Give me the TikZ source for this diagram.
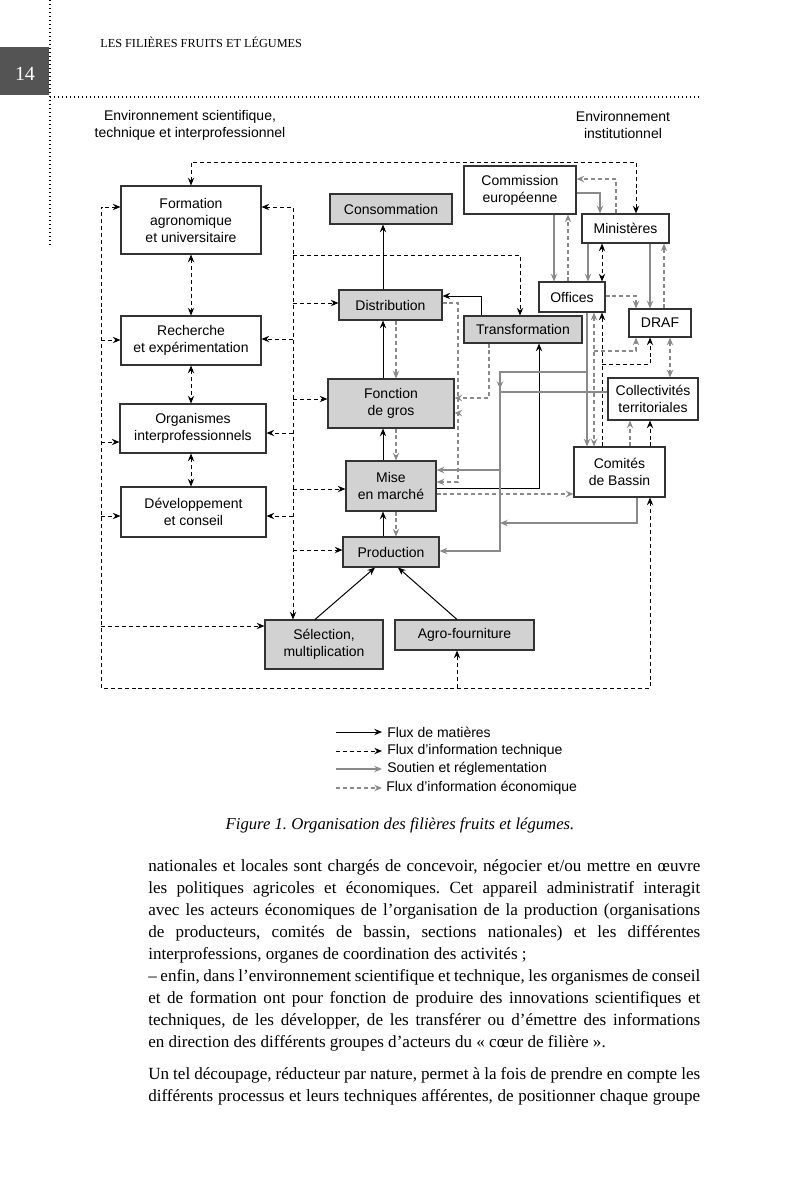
\documentclass[tikz,border=0pt]{standalone}
\usepackage{fontspec}
\setmainfont{Liberation Serif}
\setsansfont{Liberation Sans}
\usetikzlibrary{arrows.meta}
\frenchspacing
\definecolor{gline}{HTML}{8A8A8A}
\definecolor{gfill}{HTML}{D2D2D2}
\definecolor{bord}{HTML}{333333}
\definecolor{pagebox}{HTML}{545454}
\tikzset{
  >={Stealth[length=5.8pt,width=4.8pt,inset=2pt]},
  box/.style={draw=bord, line width=0.8pt, fill=white, align=center, inner sep=0pt,
    font=\sffamily\fontsize{10.5}{12.75}\selectfont},
  gbox/.style={box, fill=gfill},
  wh/.style 2 args={minimum width=#1*0.75pt, minimum height=#2*0.75pt},
  lab/.style={align=center, inner sep=0pt, font=\sffamily\fontsize{10.5}{12.75}\selectfont},
  bs/.style={line width=0.75pt, draw=black, ->},
  bd/.style={line width=0.75pt, draw=black, dash pattern=on 3pt off 2.2pt, ->},
  gs/.style={line width=1.4pt, draw=gline, ->},
  gd/.style={line width=1.2pt, draw=gline, dash pattern=on 3pt off 2.2pt, ->},
  dotl/.style={line width=1pt, dash pattern=on 1pt off 2pt},
  body/.style={inner sep=0pt, anchor=base west, font=\fontsize{12.8}{14}\selectfont},
}
\begin{document}
\begin{tikzpicture}[x=0.75pt,y=-0.75pt]
\fill[white] (0,0) rectangle (800,1200);
\useasboundingbox (0,0) rectangle (800,1200);

% page furniture
\fill[pagebox] (0,47) rectangle (49,95);
\node[inner sep=0pt, anchor=base, text=white, font=\fontsize{15}{15}\selectfont] (pg) at (25,80) {14};
\node[inner sep=0pt, anchor=base west, font=\fontsize{9.2}{10}\selectfont] (hdr) at (100,47) {LES FILIÈRES FRUITS ET LÉGUMES};
\draw[dotl] (50,0) -- (50,245);
\draw[dotl] (50,97) -- (700,97);

\node[lab] (envs) at (190,125) {Environnement scientifique,\\technique et interprofessionnel};
\node[lab] (envi) at (623,125) {Environnement\\institutionnel};

% left column
\node[box, wh={140}{68}] (form) at (191,220) {Formation\\agronomique\\et universitaire};
\node[box, wh={140}{49}] (rech) at (191,340.5) {Recherche\\et expérimentation};
\node[box, wh={146}{49}] (org) at (193,428.5) {Organismes\\interprofessionnels};
\node[box, wh={145}{50}] (dev) at (193.5,512) {Développement\\et conseil};

% core
\node[gbox, wh={122}{30}] (cons) at (391,209) {Consommation};
\node[gbox, wh={103}{30}] (dist) at (390.5,305) {Distribution};
\node[gbox, wh={126}{49}] (gros) at (391,403.5) {Fonction\\de gros};
\node[gbox, wh={90}{50}] (mise) at (391,486) {Mise\\en marché};
\node[gbox, wh={96}{30}] (prod) at (391,552) {Production};
\node[gbox, wh={118}{27}] (trans) at (523,329.5) {Transformation};
\node[gbox, wh={118}{49}] (sel) at (324,644.5) {Sélection,\\multiplication};
\node[gbox, wh={139}{30}] (agro) at (464.5,635) {Agro-fourniture};

% institutional
\node[box, wh={112}{48}] (com) at (520,190) {Commission\\européenne};
\node[box, wh={87}{29}] (min) at (625.5,228.5) {Ministères};
\node[box, wh={66}{30}] (off) at (572,297) {Offices};
\node[box, wh={62}{28}] (draf) at (660,323) {DRAF};
\node[box, wh={90}{42}] (coll) at (653,399) {Collectivités\\territoriales};
\node[box, wh={91}{50}] (comb) at (619.5,472) {Comités\\de Bassin};

% ---- black solid: flux de matieres
\draw[bs] (prod.north -| 383,0) -- (mise.south -| 383,0);
\draw[bs] (mise.north -| 383,0) -- (gros.south -| 383,0);
\draw[bs] (gros.north -| 383,0) -- (dist.south -| 383,0);
\draw[bs] (dist.north -| 383,0) -- (cons.south -| 383,0);
\draw[bs] (trans.north -| 481,0) |- (dist.east |- 0,296);
\draw[bs] (mise.east |- 0,488) -| (trans.south -| 539,0);
\draw[bs] (sel.north -| 315,0) -- (prod.south -| 375,0);
\draw[bs] (agro.north -| 457,0) -- (prod.south -| 398,0);

% ---- black dashed: information technique
\draw[bd,<->] (form.north) |- (636,162) -- (min.north -| 636,0);
\draw[bd,<->] (form.south -| 191,0) -- (rech.north -| 191,0);
\draw[bd,<->] (rech.south -| 191,0) -- (org.north -| 191,0);
\draw[bd,<->] (org.south -| 191,0) -- (dev.north -| 191,0);
% left bus
\coordinate (lbtop) at (101,207);
\coordinate (lbbot) at (101,688);
\coordinate (rbbot) at (650,688);
\draw[bd,<->] (comb.south -| 650,0) -- (rbbot) -- (lbbot) -- (lbtop) -- (form.west |- lbtop);
\draw[bd] (101,340) -- (rech.west |- 0,340);
\draw[bd] (101,442) -- (org.west |- 0,442);
\draw[bd] (101,516) -- (dev.west |- 0,516);
\draw[bd] (101,626) -- (sel.west |- 0,626);
\draw[bd] (457,688) -- (agro.south -| 457,0);
% middle bus
\coordinate (mbtop) at (293,207);
\draw[bd,<->] (form.east |- mbtop) -- (mbtop) -- (sel.north -| mbtop);
\draw[bd] (293,339) -- (rech.east |- 0,339);
\draw[bd] (293,433) -- (org.east |- 0,433);
\draw[bd] (293,516) -- (dev.east |- 0,516);
\draw[bd] (293,303) -- (dist.west |- 0,303);
\draw[bd] (293,399) -- (gros.west |- 0,399);
\draw[bd] (293,489) -- (mise.west |- 0,489);
\draw[bd] (293,550) -- (prod.west |- 0,550);
\draw[bd] (293,255) -| (trans.north -| 520,0);
% institutional
\draw[bd,<->] (min.south -| 602,0) -- (off.north -| 602,0);
\draw[bd] (comb.north -| 602,0) -- (off.south -| 602,0);
\draw[bd] (602,364) -| (draf.south -| 650,0);
\draw[bd] (comb.north -| 650,0) -- (coll.south -| 650,0);

% ---- grey solid: soutien et reglementation
\draw[gs] (com.south -| 554,0) -- (off.north -| 554,0);
\draw[gs] (com.east |- 0,193) -| (min.north -| 600,0);
\draw[gs] (min.south -| 588,0) -- (off.north -| 588,0);
\draw[gs] (min.south -| 650,0) -- (draf.north -| 650,0);
\draw[gs] (off.south -| 587,0) -- (comb.north -| 587,0);
\coordinate (gb1) at (500,372);
\draw[gs] (587,372) -- (gb1) -- (500,389);
\draw[gs,-] (coll.west |- 0,392) -- (500,392);
\draw[gs] (gb1) |- (prod.east |- 0,551);
\draw[gs] (500,470) -- (mise.east |- 0,470);
\draw[gs] (comb.south -| 637,0) |- (500,523);

% ---- grey dashed: information economique
\draw[gd] (off.north -| 568,0) -- (com.south -| 568,0);
\draw[gd] (min.north -| 616,0) |- (com.east |- 0,179);
\draw[gd] (draf.north -| 664,0) -- (min.south -| 664,0);
\draw[gd] (off.east |- 0,296) -| (draf.north -| 636,0);
\draw[gd,<->] (draf.south -| 670,0) -- (coll.north -| 670,0);
\draw[gd,<->] (off.south -| 594,0) -- (comb.north -| 594,0);
\draw[gd] (594,351) -| (draf.south -| 636,0);
\draw[gd] (comb.north -| 630,0) -- (coll.south -| 630,0);
\draw[gd] (mise.east |- 0,494) -- (comb.west |- 0,494);
\draw[gd] (dist.east |- 0,303) -| (458,482) -- (mise.east |- 0,482);
\draw[gd] (458,413) -- (gros.east |- 0,413);
\draw[gd] (trans.south -| 489,0) |- (gros.east |- 0,398);
\draw[gd] (dist.south -| 396,0) -- (gros.north -| 396,0);
\draw[gd] (gros.south -| 396,0) -- (mise.north -| 396,0);
\draw[gd] (mise.south -| 396,0) -- (prod.north -| 396,0);

% ---- legend
\coordinate (l1a) at (336,732); \coordinate (l1b) at (382,732);
\coordinate (l2a) at (336,751); \coordinate (l2b) at (382,751);
\coordinate (l3a) at (336,769); \coordinate (l3b) at (382,769);
\coordinate (l4a) at (336,788); \coordinate (l4b) at (382,788);
\draw[bs] (l1a) -- (l1b);
\draw[bd] (l2a) -- (l2b);
\draw[gs] (l3a) -- (l3b);
\draw[gd] (l4a) -- (l4b);
\node[lab, anchor=west] (t1) at (387,732) {Flux de matières};
\node[lab, anchor=west] (t2) at (387,751) {Flux d'information technique};
\node[lab, anchor=west] (t3) at (387,769) {Soutien et réglementation};
\node[lab, anchor=west] (t4) at (386,788) {Flux d'information économique};

% ---- caption and body text
\node[inner sep=0pt, anchor=base, font=\fontsize{12.5}{14}\selectfont\itshape] (cap) at (400,829) {Figure 1. Organisation des filières fruits et légumes.};
\node[body] (b1) at (148,871) {\makebox[414pt][s]{nationales et locales sont chargés de concevoir, négocier et/ou mettre en œuvre}};
\node[body] (b2) at (148,893) {\makebox[414pt][s]{les politiques agricoles et économiques. Cet appareil administratif interagit}};
\node[body] (b3) at (148,915) {\makebox[414pt][s]{avec les acteurs économiques de l’organisation de la production (organisations}};
\node[body] (b4) at (148,937) {\makebox[414pt][s]{de producteurs, comités de bassin, sections nationales) et les différentes}};
\node[body] (b5) at (148,959) {interprofessions, organes de coordination des activités ;};
\node[body] (b6) at (148,981) {\makebox[414pt][s]{– enfin, dans l’environnement scientifique et technique, les organismes de conseil}};
\node[body] (b7) at (148,1003) {\makebox[414pt][s]{et de formation ont pour fonction de produire des innovations scientifiques et}};
\node[body] (b8) at (148,1025) {\makebox[414pt][s]{techniques, de les développer, de les transférer ou d’émettre des informations}};
\node[body] (b9) at (148,1047) {en direction des différents groupes d’acteurs du « cœur de filière ».};
\node[body] (b10) at (148,1079) {\makebox[414pt][s]{Un tel découpage, réducteur par nature, permet à la fois de prendre en compte les}};
\node[body] (b11) at (148,1101) {\makebox[414pt][s]{différents processus et leurs techniques afférentes, de positionner chaque groupe}};
\end{tikzpicture}
\end{document}
